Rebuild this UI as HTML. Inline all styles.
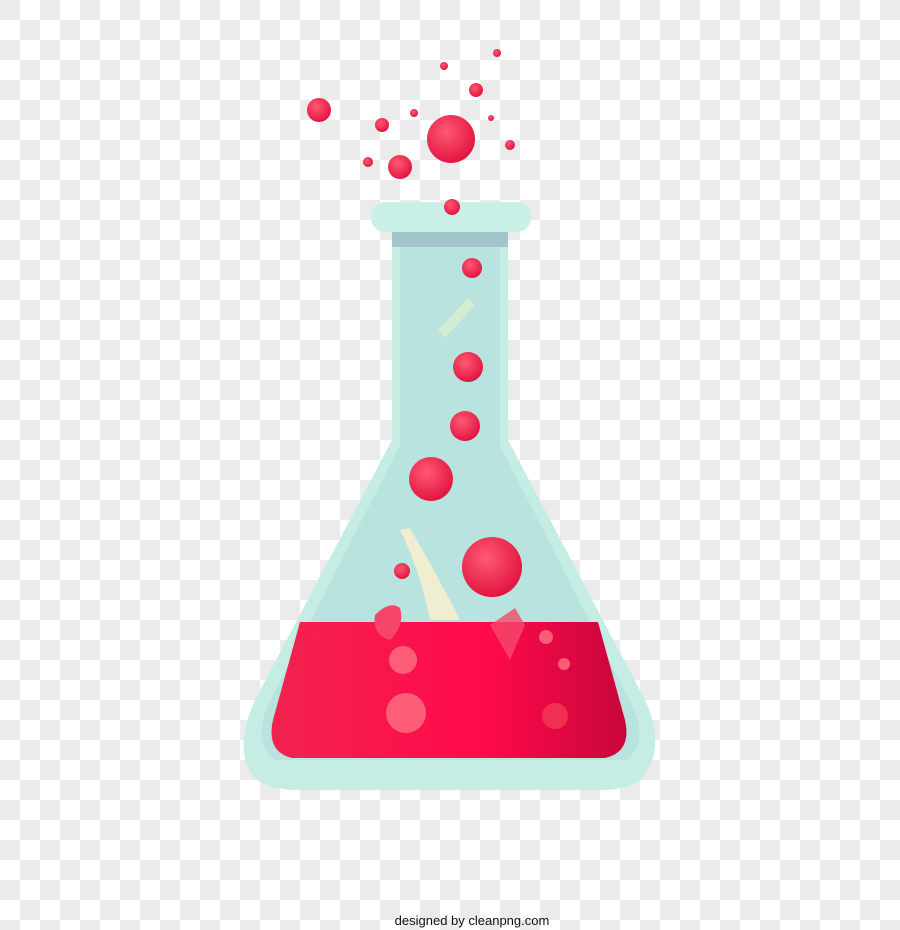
<!DOCTYPE html>
<html><head><meta charset="utf-8"><style>
html,body{margin:0;padding:0;width:900px;height:930px;overflow:hidden}
body{background-color:#fff;background-image:linear-gradient(45deg,#ebebeb 25%,transparent 25%,transparent 75%,#ebebeb 75%),linear-gradient(45deg,#ebebeb 25%,transparent 25%,transparent 75%,#ebebeb 75%);background-size:40px 40px;background-position:20px 0,0 20px}
svg{position:absolute;left:0;top:0}
</style></head><body>
<svg width="900" height="930">
<defs>
<linearGradient id="liq" x1="0" x2="1"><stop offset="0" stop-color="#f2234f"/><stop offset="0.6" stop-color="#ff0a4a"/><stop offset="1" stop-color="#c8063a"/></linearGradient>
<radialGradient id="bub" cx="0.4" cy="0.35" r="0.7"><stop offset="0" stop-color="#ff5a72"/><stop offset="1" stop-color="#e0103e"/></radialGradient>
</defs>
<g>
<path d="M392,232 L508,232 L508,440 L645,700 Q668,750 640,780 Q628,790 600,790 L300,790 Q268,790 255,778 Q232,752 255,700 L392,440 Z" fill="#c6ede4"/>
<path d="M400,240 L500,240 L500,445 L632,705 Q650,745 625,760 L275,760 Q252,745 268,705 L400,445 Z" fill="#b9e3de"/>
<rect x="392" y="232" width="116" height="15" fill="#a3c4c9"/>
<rect x="371" y="202" width="160" height="30" rx="14" fill="#c8f0e7"/>
</g>
<path d="M300,622 L598,622 L625,720 Q632,752 605,758 L292,758 Q266,752 273,720 Z" fill="url(#liq)"/>
<path d="M400,530 Q420,570 430,620 L460,620 Q440,580 410,528 Z" fill="#f5eecf" opacity="0.9"/>
<path d="M438,330 L468,298 L475,305 L445,338 Z" fill="#e0f0d0" opacity="0.7"/>
<path d="M375,615 Q390,600 400,608 Q405,625 390,640 Q372,635 375,615 Z" fill="#f5466a"/>
<path d="M490,625 L515,608 L525,625 L510,660 Z" fill="#f54a6c" opacity="0.8"/>
<g fill="url(#bub)">
<circle cx="451" cy="139" r="24"/><circle cx="319" cy="110" r="12"/><circle cx="400" cy="167" r="12"/><circle cx="382" cy="125" r="7"/><circle cx="476" cy="90" r="7"/><circle cx="444" cy="66" r="4"/><circle cx="497" cy="53" r="4"/><circle cx="414" cy="113" r="4"/><circle cx="368" cy="162" r="5"/><circle cx="491" cy="118" r="3"/><circle cx="510" cy="145" r="5"/><circle cx="452" cy="207" r="8"/><circle cx="472" cy="268" r="10"/><circle cx="468" cy="367" r="15"/><circle cx="465" cy="426" r="15"/><circle cx="431" cy="479" r="22"/><circle cx="492" cy="567" r="30"/><circle cx="402" cy="571" r="8"/>
<circle cx="555" cy="716" r="13" fill="#f03050"/>
</g>
<g fill="#ff6b80" opacity="0.85"><circle cx="406" cy="713" r="20"/><circle cx="403" cy="660" r="14"/><circle cx="546" cy="637" r="7"/><circle cx="564" cy="664" r="6"/></g>
<text x="472" y="925" text-anchor="middle" font-family="Liberation Sans, sans-serif" font-size="13" fill="#111">designed by cleanpng.com</text>
</svg>
</body></html>
